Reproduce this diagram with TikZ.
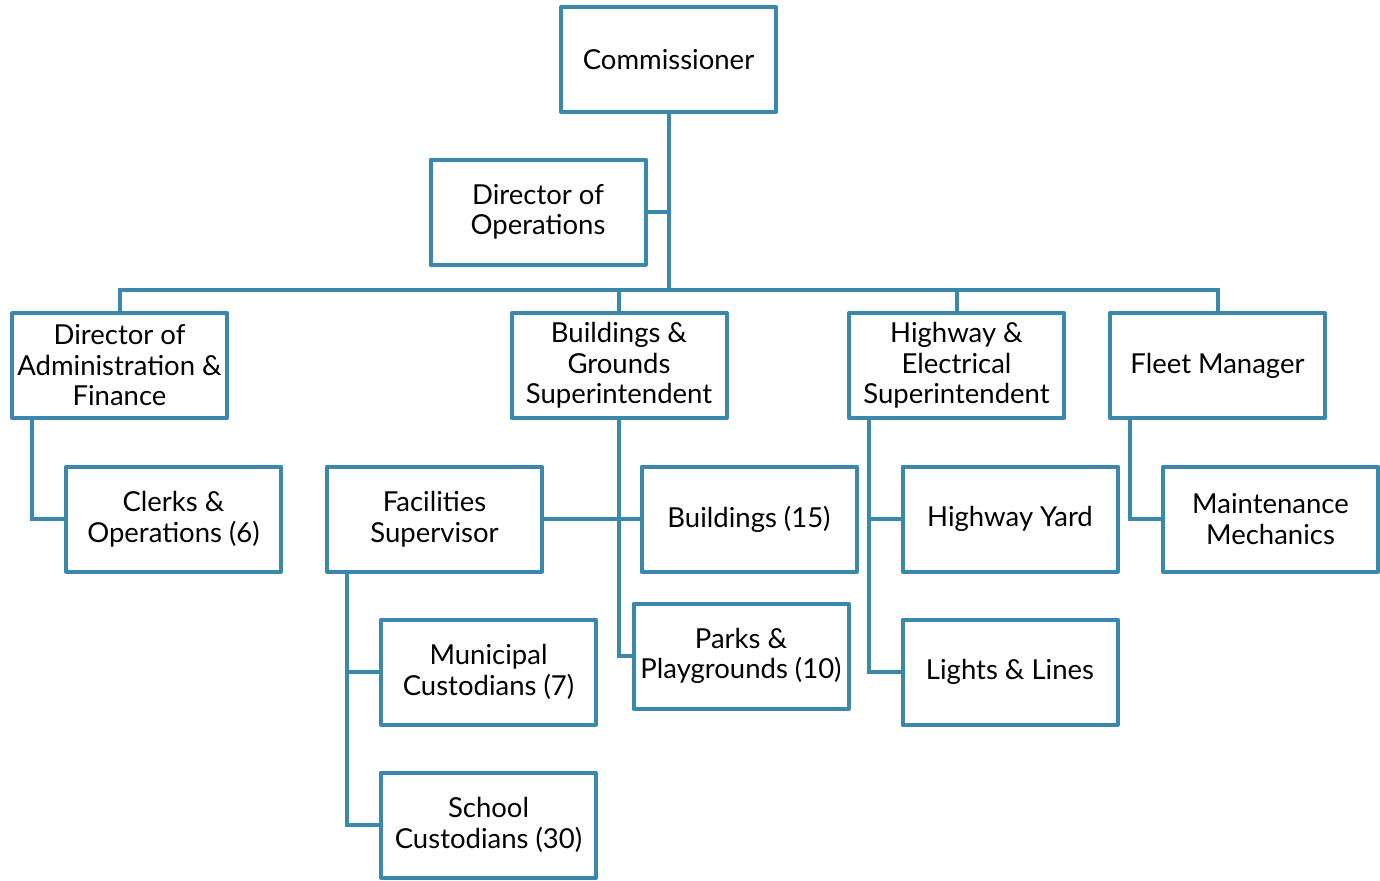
\documentclass[tikz,border=0pt]{standalone}
\usepackage{fontspec}
\setmainfont{Lato}
\usepackage{tikz}
\definecolor{orgblue}{RGB}{58,137,173}

\begin{document}
\begin{tikzpicture}[x=1pt,y=-1pt,
    unit/.style={draw=orgblue,line width=4pt,line join=round,fill=white,
      minimum width=215pt,minimum height=105pt,inner sep=1pt,align=center,
      font=\fontsize{27.5}{30.5}\selectfont},
    link/.style={draw=orgblue,line width=4pt}]
  \useasboundingbox (0,0) rectangle (1380,880);
  % top of the chart
  \node[unit] (comm) at (668.5,59.5) {Commissioner};
  \node[unit] (dirops) at (538,212) {Director of\\Operations};
  % second row
  \node[unit] (admin) at (119.5,365.5) {Director of\\Administration \&\\Finance};
  \node[unit] (bldg) at (619,365.5) {Buildings \&\\Grounds\\Superintendent};
  \node[unit] (hwy) at (956.5,365.5) {Highway \&\\Electrical\\Superintendent};
  \node[unit] (fleet) at (1217.5,365.5) {Fleet Manager};
  % third row
  \node[unit] (clerks) at (173.5,519) {Clerks \&\\Operations (6)};
  \node[unit] (facil) at (434.5,519) {Facilities\\Supervisor};
  \node[unit] (bldgs) at (749,519) {Buildings (15)};
  \node[unit] (yard) at (1010,519) {Highway Yard};
  \node[unit] (maint) at (1270.5,519) {Maintenance\\Mechanics};
  % lower rows
  \node[unit] (parks) at (741,656) {Parks \&\\Playgrounds (10)};
  \node[unit] (lights) at (1010,672) {Lights \& Lines};
  \node[unit] (muni) at (488.5,672) {Municipal\\Custodians (7)};
  \node[unit] (school) at (488.5,825) {School\\Custodians (30)};

  % connectors
  \coordinate (bus) at (668.5,290);
  \draw[link] (comm.south) -- (bus);
  \draw[link] (dirops.east) -- (dirops.east -| comm.south);
  \draw[link] (admin.north) |- (bus) -| (fleet.north);
  \draw[link] (bus -| bldg.north) -- (bldg.north);
  \draw[link] (bus -| hwy.north) -- (hwy.north);
  \draw[link] ([xshift=22pt]admin.south west) |- (clerks.west);
  \draw[link] (bldg.south) |- (parks.west);
  \draw[link] (facil.east) -- (bldgs.west);
  \coordinate (fdrop) at ([xshift=22pt]facil.south west);
  \draw[link] (fdrop) |- (school.west);
  \draw[link] (fdrop |- muni.west) -- (muni.west);
  \coordinate (hdrop) at ([xshift=22pt]hwy.south west);
  \draw[link] (hdrop) |- (lights.west);
  \draw[link] (hdrop |- yard.west) -- (yard.west);
  \draw[link] ([xshift=22pt]fleet.south west) |- (maint.west);
\end{tikzpicture}
\end{document}
